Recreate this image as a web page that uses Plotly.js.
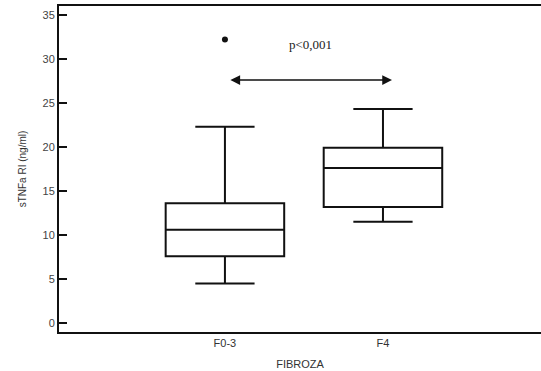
<!DOCTYPE html>
<html><head><meta charset="utf-8">
<script src="https://cdn.plot.ly/plotly-3.0.1.min.js"></script>
<style>html,body{margin:0;padding:0;background:#fff}</style>
</head><body>
<div id="chart" style="width:541px;height:371px"></div>
<script>
const categories = ['F0-3', 'F4'];
const lowerWhisker = [4.5, 11.5];
const q1Values = [7.6, 13.2];
const medianValues = [10.6, 17.6];
const q3Values = [13.6, 19.9];
const upperWhisker = [22.3, 24.3];
const outlierCats = ['F0-3'];
const outlierValues = [32.2];
const pText = 'p&lt;0,001';
const arrowY = 27.6;
const yTicks = [0, 5, 10, 15, 20, 25, 30, 35];

const data = [
  {
    type: 'box',
    x: categories,
    q1: q1Values,
    median: medianValues,
    q3: q3Values,
    lowerfence: lowerWhisker,
    upperfence: upperWhisker,
    width: 0.75,
    whiskerwidth: 0.5,
    fillcolor: 'rgba(255,255,255,0)',
    line: {color: '#111', width: 2},
    boxpoints: false,
    hoverinfo: 'skip',
    showlegend: false
  },
  {
    type: 'scatter',
    mode: 'markers',
    x: outlierCats,
    y: outlierValues,
    marker: {color: '#111', size: 6},
    showlegend: false,
    hoverinfo: 'skip'
  }
];

const layout = {
  width: 541, height: 371,
  margin: {l: 59, r: 0, t: 6, b: 39},
  paper_bgcolor: '#fff', plot_bgcolor: '#fff',
  showlegend: false,
  xaxis: {
    type: 'category',
    range: [-1.05, 2.0],
    showline: true, linecolor: '#111', linewidth: 2, mirror: true,
    showgrid: false, zeroline: false, ticks: '',
    tickfont: {family: 'Liberation Sans, Arial, sans-serif', size: 11, color: '#333'},
    title: {text: 'FIBROZA', standoff: 12, font: {family: 'Liberation Sans, Arial, sans-serif', size: 11, color: '#333'}}
  },
  yaxis: {
    range: [-1.0, 36.0],
    tickvals: yTicks,
    showline: true, linecolor: '#111', linewidth: 2,
    showgrid: false, zeroline: false,
    ticks: 'inside', ticklen: 8, tickwidth: 1.5, tickcolor: '#111',
    tickfont: {family: 'Liberation Sans, Arial, sans-serif', size: 11, color: '#444'},
    title: {text: 'sTNFa RI (ng/ml)', standoff: 14, font: {family: 'Liberation Sans, Arial, sans-serif', size: 10, color: '#333'}}
  },
  annotations: [
    {
      x: 1.057, y: arrowY, ax: 0.025, ay: arrowY,
      xref: 'x', yref: 'y', axref: 'x', ayref: 'y',
      text: '', showarrow: true, arrowside: 'end+start',
      arrowhead: 2, arrowsize: 1.3, arrowwidth: 1.5, arrowcolor: '#111'
    },
    {
      x: 0.54, y: 31.6, xref: 'x', yref: 'y',
      text: pText, showarrow: false,
      font: {family: 'Liberation Serif, Times New Roman, serif', size: 13, color: '#222'}
    }
  ]
};

Plotly.newPlot('chart', data, layout, {displayModeBar: false, staticPlot: true});
</script>
</body></html>
